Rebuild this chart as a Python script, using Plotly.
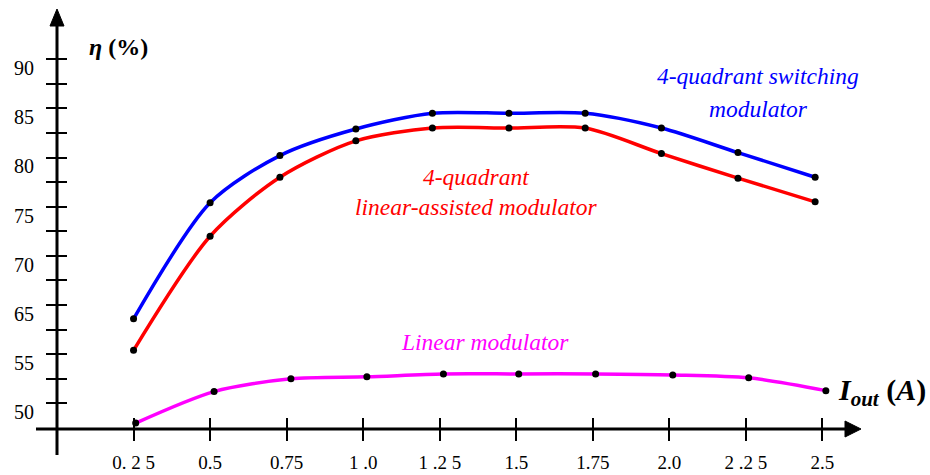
import plotly.graph_objects as go

# ---------------- data ----------------
# current I_out (A) where each measured point sits
x_switching = [0.25, 0.50, 0.728, 0.976, 1.226, 1.476, 1.725, 1.974, 2.224, 2.476]
x_assisted = [0.25, 0.50, 0.728, 0.976, 1.226, 1.476, 1.725, 1.974, 2.224, 2.476]
x_linear = [0.257, 0.513, 0.764, 1.012, 1.262, 1.508, 1.759, 2.011, 2.259, 2.511]

# efficiency eta (%) as read against the (broken) printed axis
eta_switching = [62.2, 75.4, 80.2, 82.9, 84.5, 84.5, 84.5, 83.0, 80.5, 78.0]
eta_assisted = [55.8, 72.0, 78.0, 81.7, 83.0, 83.0, 83.0, 80.4, 77.9, 75.5]
eta_linear = [48.0, 51.2, 52.5, 52.7, 53.0, 53.0, 53.0, 52.9, 52.6, 51.3]

x_tick_vals = [0.25, 0.5, 0.75, 1.0, 1.25, 1.5, 1.75, 2.0, 2.25, 2.5]
x_tick_text = ["0. 2 5", "0.5", "0.75", "1 .0", "1 .2 5", "1.5", "1.75", "2.0", "2 .2 5", "2.5"]

y_tick_labels = [50, 55, 65, 70, 75, 80, 85, 90]


# The printed y axis is broken: 55 -> 65 spans one 5-unit step,
# and everything below 55 is shifted one step.
def axis_pos(v):
    if v >= 65:
        return v
    if v >= 55:
        return 60 + (v - 55) / 2.0
    return v + 5


y_tick_positions = [55 + 2.5 * i for i in range(15)]  # every minor mark 55..90

# ---------------- layout geometry ----------------
W, H = 930, 475
L, R, T, B = 57, 70, 10, 46
PW, PH = W - L - R, H - T - B
X_RANGE = [0, 2.6225]
Y_RANGE = [52.4, 95.0]
LABEL_SHIFT = 0.9  # y labels sit a little below their marks

FONT = "Liberation Serif"


def pxx(px):
    return (px - L) / PW


def pxy(py):
    return (H - B - py) / PH


fig = go.Figure()

series = [
    (x_switching, eta_switching, "#0000FF"),
    (x_assisted, eta_assisted, "#FF0000"),
    (x_linear, eta_linear, "#FF00FF"),
]
for xs, ys, col in series:
    fig.add_trace(go.Scatter(
        x=xs, y=[axis_pos(v) for v in ys], mode="lines+markers",
        line=dict(color=col, width=3.5, shape="spline", smoothing=0.8),
        marker=dict(color="black", size=7),
        showlegend=False, hoverinfo="skip", cliponaxis=False,
    ))

# dummy traces so the overlay axes (inner tick halves, labels) are drawn
fig.add_trace(go.Scatter(x=[None], y=[None], xaxis="x2", yaxis="y2", showlegend=False,
                         hoverinfo="skip"))
fig.add_trace(go.Scatter(x=[None], y=[None], xaxis="x", yaxis="y3", showlegend=False,
                         hoverinfo="skip"))

common = dict(showgrid=False, zeroline=False, showline=False, fixedrange=True,
              automargin=False)

fig.update_layout(
    width=W, height=H,
    margin=dict(l=L, r=R, t=T, b=B, pad=0, autoexpand=False),
    paper_bgcolor="white", plot_bgcolor="white", showlegend=False,
    xaxis=dict(range=X_RANGE, tickmode="array", tickvals=x_tick_vals, ticktext=x_tick_text,
               ticks="outside", ticklen=11, tickwidth=2, tickcolor="black",
               tickfont=dict(family=FONT, size=19, color="black"), ticklabelstandoff=5,
               **common),
    xaxis2=dict(range=X_RANGE, overlaying="x", anchor="y2", side="bottom", tickmode="array",
                tickvals=x_tick_vals, ticks="inside", ticklen=11, tickwidth=2, tickcolor="black",
                showticklabels=False, **common),
    yaxis=dict(range=Y_RANGE, tickmode="array", tickvals=y_tick_positions,
               ticks="outside", ticklen=10, tickwidth=2, tickcolor="black",
               showticklabels=False, **common),
    yaxis2=dict(range=Y_RANGE, overlaying="y", anchor="x2", side="left", tickmode="array",
                tickvals=y_tick_positions, ticks="inside", ticklen=10, tickwidth=2,
                tickcolor="black", showticklabels=False, **common),
    yaxis3=dict(range=Y_RANGE, overlaying="y", anchor="x", side="left", tickmode="array",
                tickvals=[axis_pos(v) - LABEL_SHIFT for v in y_tick_labels],
                ticktext=[str(v) for v in y_tick_labels], ticks="",
                tickfont=dict(family=FONT, size=20, color="black"), ticklabelstandoff=22,
                **common),
)

# axis lines with arrow heads
shapes = [
    dict(type="line", xref="paper", yref="paper", x0=0, x1=0, y0=pxy(455), y1=pxy(22),
         line=dict(color="black", width=3)),
    dict(type="line", xref="paper", yref="paper", x0=pxx(36), x1=pxx(848), y0=0, y1=0,
         line=dict(color="black", width=3)),
    dict(type="path", xref="paper", yref="paper",
         path=f"M 0 {pxy(9)} L {-7/PW} {pxy(26)} L {7/PW} {pxy(26)} Z",
         fillcolor="black", line=dict(color="black", width=1)),
    dict(type="path", xref="paper", yref="paper",
         path=f"M {pxx(861)} 0 L {pxx(845)} {8/PH} L {pxx(845)} {-8/PH} Z",
         fillcolor="black", line=dict(color="black", width=1)),
]
fig.update_layout(shapes=shapes)


def note(text, px, py, color, size, xanchor="center"):
    fig.add_annotation(x=pxx(px), y=pxy(py), xref="paper", yref="paper", text=text,
                       showarrow=False, xanchor=xanchor, yanchor="middle",
                       font=dict(family=FONT, size=size, color=color))


note("<b><i>η</i> (%)</b>", 118, 47, "black", 24)
note("<i>4-quadrant switching</i>", 758, 76, "#0000FF", 23.5)
note("<i>modulator</i>", 758, 109, "#0000FF", 23.5)
note("<i>4-quadrant</i>", 476, 177, "#FF0000", 23.5)
note("<i>linear-assisted modulator</i>", 476, 207, "#FF0000", 23.5)
note("<i>Linear modulator</i>", 485, 342, "#FF00FF", 23.5)
note("<b><i>I<sub>out</sub></i> (<i>A</i>)</b>", 836, 392, "black", 30, xanchor="left")

fig.write_html("out.html")
